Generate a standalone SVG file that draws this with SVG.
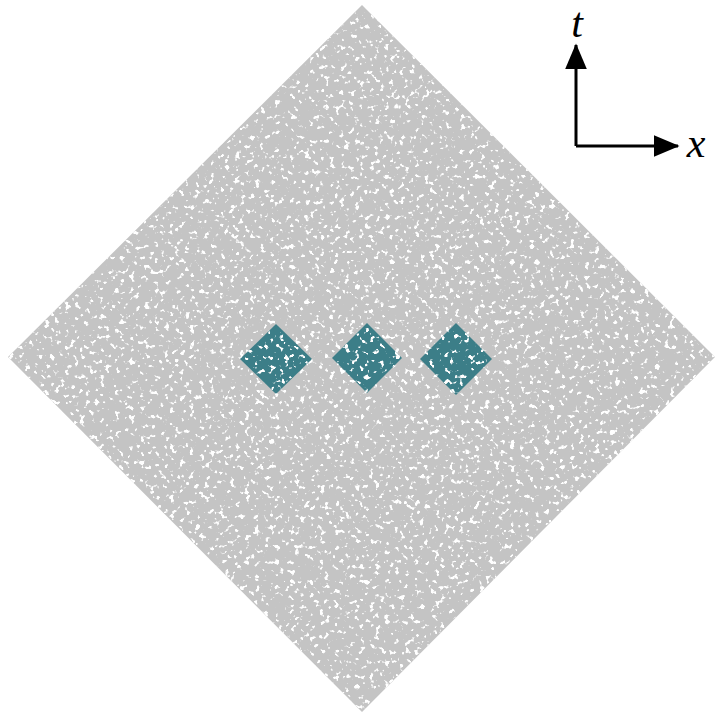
<svg xmlns="http://www.w3.org/2000/svg" width="716" height="719" viewBox="0 0 716 719">
<style>
.bg{fill:#c4c4c4}
.teal{fill:#3c7e88}
.speck{fill:#ffffff;filter:url(#speck)}
.axis{stroke:#000;stroke-width:3;fill:none}
.lbl{font-family:"Liberation Serif","DejaVu Serif",serif;font-style:italic;font-size:42px;fill:#000}
</style>
<defs>
<filter id="speck" x="0" y="0" width="1" height="1" filterUnits="objectBoundingBox">
<feTurbulence type="fractalNoise" baseFrequency="0.2" numOctaves="2" seed="7" result="n"/>
<feColorMatrix in="n" type="matrix" values="0 0 0 0 1  0 0 0 0 1  0 0 0 0 1  12 0 0 0 -7.3" result="m"/>
<feComposite in="m" in2="SourceGraphic" operator="in"/>
</filter>
<marker id="arr" markerWidth="9" markerHeight="8" refX="8" refY="4" orient="auto" markerUnits="strokeWidth">
<path d="M0,0.4 L8.5,4 L0,7.6 Z" fill="#000"/>
</marker>
</defs>
<rect width="716" height="719" fill="#fff"/>
<g id="sprinkling">
<polygon class="bg" points="362,5 715,357 362,712 8,357"/>
<polygon class="speck" points="362,5 715,357 362,712 8,357"/>
</g>
<g id="region1">
<polygon class="teal" points="276,324 312,359 276,394 240,359"/>
<polygon class="speck" points="276,324 312,359 276,394 240,359"/>
</g>
<g id="region2">
<polygon class="teal" points="367,323 402,358 367,393 332,358"/>
<polygon class="speck" points="367,323 402,358 367,393 332,358"/>
</g>
<g id="region3">
<polygon class="teal" points="456,323 492,359 456,395 420,359"/>
<polygon class="speck" points="456,323 492,359 456,395 420,359"/>
</g>
<g id="connectors">
<line class="axis" x1="576" y1="146" x2="576" y2="45" marker-end="url(#arr)"/>
<line class="axis" x1="576" y1="146" x2="678" y2="146" marker-end="url(#arr)"/>
</g>
<g id="labels">
<text class="lbl" x="577" y="37" text-anchor="middle">t</text>
<text class="lbl" x="696" y="157" text-anchor="middle">x</text>
</g>
</svg>
